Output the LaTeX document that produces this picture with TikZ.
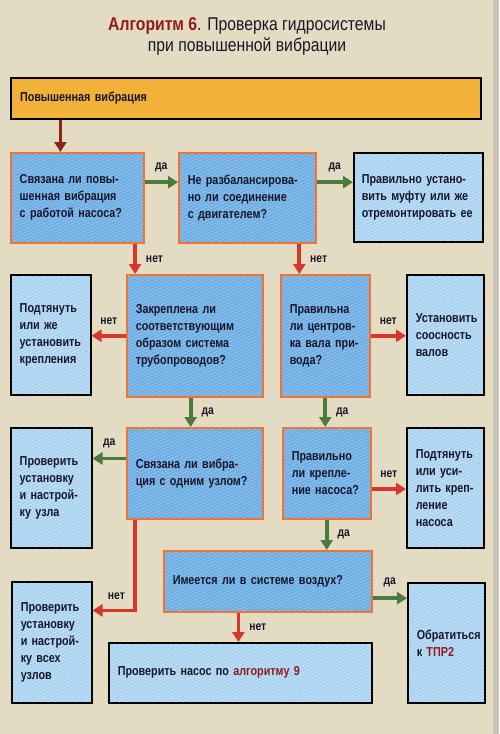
\documentclass[tikz,border=0pt]{standalone}
\usepackage{fontspec}
\setmainfont{Liberation Sans}
\newfontfamily\boxfont{Liberation Sans}[FakeStretch=0.83]
\newfontfamily\titlefont{Liberation Sans}[FakeStretch=0.85]
\usetikzlibrary{arrows.meta, calc, patterns.meta}

\definecolor{paper}{HTML}{E4DCC2}
\definecolor{pageedge}{HTML}{C8C3B4}
\definecolor{qblue}{HTML}{6FADE3}
\definecolor{qstripe}{HTML}{8DC2EE}
\definecolor{ablue}{HTML}{A9D2F1}
\definecolor{astripe}{HTML}{C3E1F7}
\definecolor{qborder}{HTML}{EE7436}
\definecolor{topfill}{HTML}{F2B23A}
\definecolor{textdark}{HTML}{17172A}
\definecolor{titlered}{HTML}{8E1C1C}
\definecolor{nored}{HTML}{D8362A}
\definecolor{yesgreen}{HTML}{4C7A3A}
\definecolor{startred}{HTML}{8A2518}

\begin{document}
\begin{tikzpicture}[x=1pt, y=-1pt,
qbox/.style={rectangle, draw=qborder, line width=1.5pt, anchor=north west,
  preaction={fill=qblue},
  preaction={pattern={Lines[angle=25,distance=3pt,line width=0.9pt]}, pattern color=qstripe},
  inner xsep=9pt, align=left, text=textdark, font=\boxfont\bfseries\fontsize{13}{17}\selectfont},
abox/.style={rectangle, draw=black, line width=1.5pt, anchor=north west,
  preaction={fill=ablue},
  preaction={pattern={Lines[angle=25,distance=3pt,line width=0.9pt]}, pattern color=astripe},
  inner xsep=9pt, align=left, text=textdark, font=\boxfont\bfseries\fontsize{13}{17}\selectfont},
topbox/.style={rectangle, draw=black, line width=2pt, fill=topfill, anchor=north west,
  inner xsep=9pt, align=left, text=textdark, font=\boxfont\bfseries\fontsize{13}{17}\selectfont},
daarrow/.style={draw=yesgreen, line width=3.8pt, -{Triangle[width=12pt,length=10pt]}},
netarrow/.style={draw=nored, line width=3.8pt, -{Triangle[width=12pt,length=10pt]}},
startarrow/.style={draw=startred, line width=3.8pt, -{Triangle[width=12pt,length=10pt]}},
lbl/.style={text=textdark, font=\boxfont\bfseries\fontsize{12.5}{14}\selectfont, inner sep=1pt},
]

\fill[paper] (0,0) rectangle (499,734);
\fill[pageedge] (493,0) rectangle (499,734);
\useasboundingbox (0,0) rectangle (499,734);

\node[align=center, text=textdark, font=\titlefont\fontsize{18.5}{21}\selectfont] (title) at (247,36)
  {\textcolor{titlered}{\bfseries Алгоритм 6}. Проверка гидросистемы\\при повышенной вибрации};

%Boxes
\node[topbox, text width=452pt, minimum height=41pt] (top) at (10,77) {Повышенная вибрация};

\node[qbox, text width=115pt, minimum height=90pt] (q1) at (10,152)
  {Связана ли повы-\\шенная вибрация\\с работой насоса?};
\node[qbox, text width=119pt, minimum height=90pt] (q2) at (178,152)
  {Не разбалансирова-\\но ли соединение\\с двигателем?};
\node[abox, text width=113pt, inner xsep=8pt, minimum height=89pt] (a1) at (353,152)
  {Правильно устано-\\вить муфту или же\\отремонтировать~ее};

\node[abox, text width=62pt, minimum height=120pt] (a2) at (10,274)
  {Подтянуть\\или же\\установить\\крепления};
\node[qbox, text width=118pt, minimum height=122pt] (q3) at (126,274)
  {Закреплена ли\\соответствующим\\образом система\\трубопроводов?};
\node[qbox, text width=71pt, minimum height=122pt] (q4) at (280,274)
  {Правильна\\ли центров-\\ка вала при-\\вода?};
\node[abox, text width=59pt, minimum height=120pt] (a3) at (406,274)
  {Установить\\соосность\\валов};

\node[abox, text width=63pt, minimum height=120pt] (a4) at (10,427)
  {Проверить\\установку\\и настрой-\\ку узла};
\node[qbox, text width=118pt, minimum height=91pt] (q5) at (126,427)
  {Связана ли вибра-\\ция с одним узлом?};
\node[qbox, text width=70pt, minimum height=91pt] (q6) at (282,427)
  {Правильно\\ли крепле-\\ние насоса?};
\node[abox, text width=59pt, minimum height=120pt] (a5) at (406,427)
  {Подтянуть\\или уси-\\лить креп-\\ление\\насоса};

\node[qbox, text width=190pt, minimum height=61pt] (q7) at (163,550)
  {Имеется ли в системе воздух?};
\node[abox, text width=62pt, minimum height=121pt] (a6) at (11,581)
  {Проверить\\установку\\и настрой-\\ку всех\\узлов};
\node[abox, text width=245pt, minimum height=60pt] (a7) at (108,642)
  {Проверить насос по \textcolor{titlered}{алгоритму 9}};
\node[abox, text width=59pt, minimum height=120pt] (a8) at (407,582)
  {Обратиться\\к \textcolor{titlered}{ТПР2}};

%Arrows
\coordinate (s0) at ($(q1.north west)!.375!(q1.north east)$);
\draw[startarrow] (s0 |- top.south) -- (s0);

\coordinate (s1) at ($(q1.north east)!.33!(q1.south east)$);
\draw[daarrow] (s1) -- (s1 -| q2.west) node[lbl, midway, above=7pt] {да};
\coordinate (s2) at ($(q2.north east)!.33!(q2.south east)$);
\draw[daarrow] (s2) -- (s2 -| a1.west) node[lbl, midway, above=7pt] {да};

\coordinate (s3) at ($(q1.south west)!.93!(q1.south east)$);
\draw[netarrow] (s3) -- (s3 |- q3.north) node[lbl, midway, right=8pt] {нет};
\coordinate (s4) at ($(q2.south west)!.876!(q2.south east)$);
\draw[netarrow] (s4) -- (s4 |- q4.north) node[lbl, midway, right=8pt] {нет};

\draw[netarrow] (q3.west) -- (q3.west -| a2.east) node[lbl, midway, above=8pt] {нет};
\draw[netarrow] (q4.east) -- (q4.east -| a3.west) node[lbl, midway, above=8pt] {нет};

\coordinate (s5) at ($(q3.south west)!.47!(q3.south east)$);
\draw[daarrow] (s5) -- (s5 |- q5.north) node[lbl, midway, right=8pt] {да};
\draw[daarrow] (q4.south) -- (q4.south |- q6.north) node[lbl, midway, right=8pt] {да};

\coordinate (s6) at ($(q5.north west)!.34!(q5.south west)$);
\draw[daarrow] (s6) -- (s6 -| a4.east) node[lbl, midway, above=8pt] {да};
\coordinate (s7) at ($(q6.north east)!.67!(q6.south east)$);
\draw[netarrow] (s7) -- (s7 -| a5.west) node[lbl, midway, above=8pt] {нет};

\draw[daarrow] (q6.south) -- (q6.south |- q7.north) node[lbl, midway, right=8pt] {да};

\coordinate (s8) at ($(q5.south west)!.066!(q5.south east)$);
\coordinate (e8) at ($(a6.north east)!.24!(a6.south east)$);
\draw[netarrow] (s8) |- (e8) node[lbl, pos=.72, above=8pt] {нет};

\coordinate (s9) at ($(q7.south west)!.36!(q7.south east)$);
\draw[netarrow] (s9) -- (s9 |- a7.north) node[lbl, midway, right=8pt] {нет};
\coordinate (s10) at ($(q7.north east)!.77!(q7.south east)$);
\draw[daarrow] (s10) -- (s10 -| a8.west) node[lbl, midway, above=8pt] {да};
\end{tikzpicture}
\end{document}
